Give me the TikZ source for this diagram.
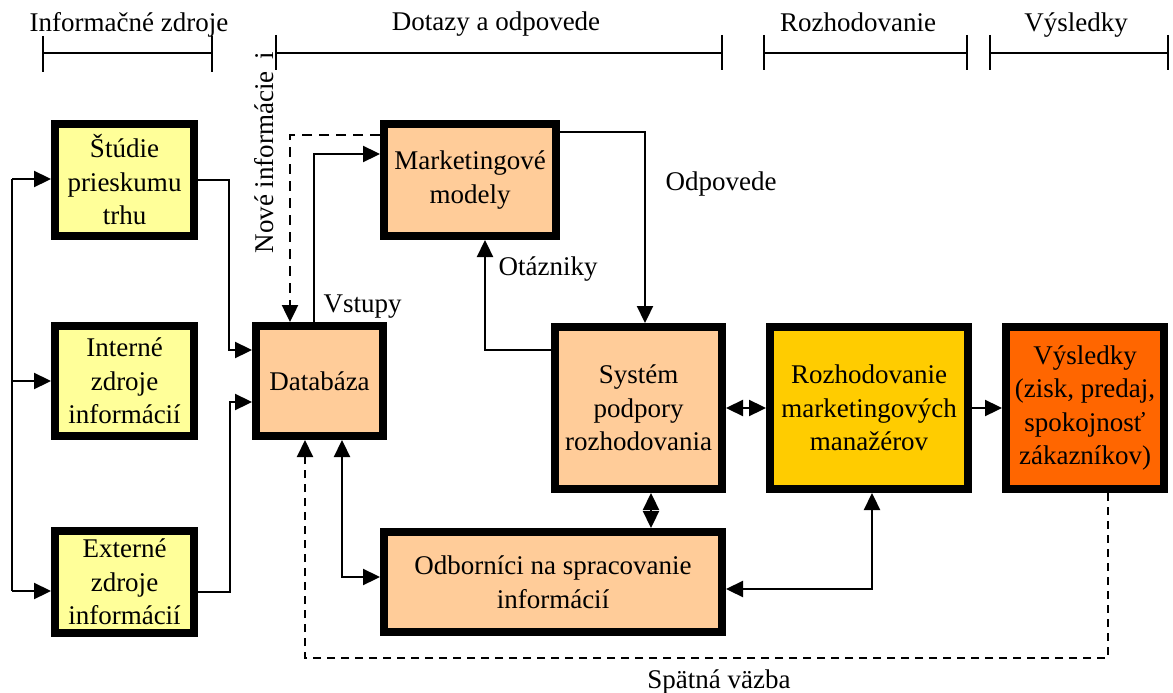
\documentclass[tikz,border=0pt]{standalone}
\usepackage{fontspec}
\setmainfont{Liberation Serif}
\usetikzlibrary{arrows.meta}
\definecolor{lightyel}{HTML}{FFFF99}
\definecolor{peach}{HTML}{FFCC99}
\definecolor{gold}{HTML}{FFCC00}
\definecolor{orng}{HTML}{FF6600}
\begin{document}
\begin{tikzpicture}[x=1pt,y=-1pt,
  every node/.style={font=\fontsize{27}{33.5}\selectfont},
  box/.style={draw, line width=8pt, align=center, inner sep=0pt, outer sep=4pt},
  conn/.style={line width=2.3pt},
  tip/.tip={Triangle[length=17pt 0 0,width=16pt 0 0]},
  arr/.style={conn, -tip},
  darr/.style={conn, tip-tip},
  newinfo/.style={line width=2.5pt, dash pattern=on 10pt off 7pt, -tip},
  fbline/.style={line width=2pt, dash pattern=on 8pt off 6pt, -tip},
  brk/.style={line width=2.3pt},
  lbl/.style={anchor=base}
]
\useasboundingbox (0,0) rectangle (1173,693);

% top brackets and labels
\node[lbl] (tInf) at (129,32) {Informačné zdroje};
\node[lbl] (tDot) at (496,31) {Dotazy a odpovede};
\node[lbl] (tRoz) at (858,32) {Rozhodovanie};
\node[lbl] (tVys) at (1076,32) {Výsledky};
\draw[brk] (43,36) -- (43,72) (43,53) -- (212,53) (212,36) -- (212,72);
\draw[brk] (276,35) -- (276,70) (276,53) -- (722,53) (722,35) -- (722,70);
\draw[brk] (764,35) -- (764,70) (764,53) -- (967,53) (967,35) -- (967,70);
\draw[brk] (990,35) -- (990,70) (990,53) -- (1168,53) (1168,35) -- (1168,70);

% boxes
\node[box, fill=lightyel, minimum width=139pt, minimum height=112pt] (stud) at (124.5,180) {Štúdie\\prieskumu\\trhu};
\node[box, fill=lightyel, minimum width=139pt, minimum height=110pt] (intr) at (124.5,381) {Interné\\zdroje\\informácií};
\node[box, fill=lightyel, minimum width=139pt, minimum height=102pt] (ext) at (124.5,582) {Externé\\zdroje\\informácií};
\node[box, fill=peach, minimum width=127pt, minimum height=110pt] (db) at (319.5,381) {Databáza};
\node[box, fill=peach, minimum width=172pt, minimum height=112pt] (mm) at (470,180) {Marketingové\\modely};
\node[box, fill=peach, minimum width=167pt, minimum height=162pt] (sys) at (638.5,408) {Systém\\podpory\\rozhodovania};
\node[box, fill=gold, minimum width=198pt, minimum height=162pt] (roz) at (869,408) {Rozhodovanie\\marketingových\\manažérov};
\node[box, fill=orng, minimum width=158pt, minimum height=162pt] (vys) at (1085,408) {Výsledky\\(zisk, predaj,\\spokojnosť\\zákazníkov)};
\node[box, fill=peach, minimum width=338pt, minimum height=100pt] (odb) at (553,582) {Odborníci na spracovanie\\informácií};

% left distribution loop
\coordinate (lt) at (12,179);
\coordinate (lm) at (12,381);
\coordinate (lb) at (12,591);
\draw[conn] (lt) -- (lb);
\draw[arr] (lt) -- (lt -| stud.west);
\draw[arr] (lm) -- (intr.west);
\draw[arr] (lb) -- (lb -| ext.west);

% sources to database
\draw[arr] (stud.east) -- ++(31,0) |- ([yshift=31pt]db.west);
\draw[arr] ([yshift=-10pt]ext.east) -- ++(32,0) |- ([yshift=-21pt]db.west);

% database links
\draw[arr] ([xshift=-5.5pt]db.north) |- ([yshift=26pt]mm.west);
\draw[newinfo] ([yshift=45pt]mm.west) -| ([xshift=-29.5pt]db.north);
\draw[darr] ([xshift=22.5pt]db.south) |- ([yshift=5pt]odb.west);

% models and decision support
\draw[arr] ([yshift=48pt]mm.east) -| ([xshift=6.5pt]sys.north);
\draw[arr] ([yshift=58pt]sys.west) -| ([xshift=15pt]mm.south);
\draw[darr] (sys.east) -- (roz.west);
\draw[darr] ([xshift=12.5pt]sys.south) -- ([xshift=12.5pt]sys.south |- odb.north);
\draw[darr] ([yshift=-7pt]odb.east) -| ([xshift=3pt]roz.south);
\draw[arr] (roz.east) -- (vys.west);

% feedback
\coordinate (fb) at (305,658);
\draw[fbline] ([xshift=23pt]vys.south) |- (fb) -- ([xshift=-14.5pt]db.south);

% labels
\node[anchor=base west] (lVst) at (320,312) {Vstupy};
\node[anchor=base west] (lOta) at (495,275) {Otázniky};
\node[anchor=base west] (lOdp) at (662,190) {Odpovede};
\node[lbl] (lSpa) at (719,688) {Spätná väzba};
\node[anchor=base west, rotate=90] (lNov) at (273,257) {Nové informácie\hspace{12pt}i};
\end{tikzpicture}
\end{document}
